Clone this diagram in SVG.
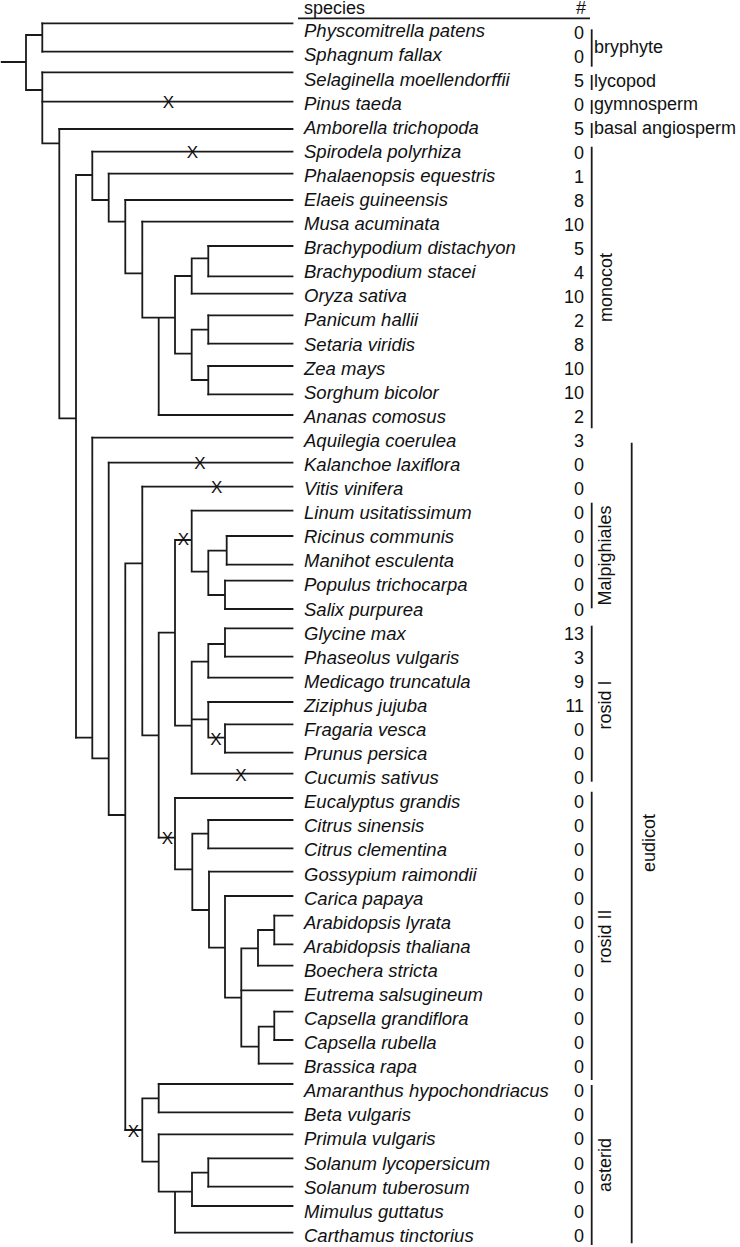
<svg xmlns="http://www.w3.org/2000/svg" width="740" height="1247" viewBox="0 0 740 1247">
<style>
.tree{fill:none;stroke:#1a1a1a;stroke-width:1.8;stroke-linecap:square}
.bar{stroke:#1a1a1a;stroke-width:1.8}
.sp{font-family:"Liberation Sans",Arial,sans-serif;font-style:italic;font-size:18.5px;fill:#111}
.num{font-family:"Liberation Sans",Arial,sans-serif;font-size:18px;fill:#111;text-anchor:end}
.lab{font-family:"Liberation Sans",Arial,sans-serif;font-size:18px;fill:#111}
.rot{font-family:"Liberation Sans",Arial,sans-serif;font-size:18px;fill:#111;text-anchor:middle}
.x{font-family:"Liberation Sans",Arial,sans-serif;font-size:17px;fill:#111;text-anchor:middle}
</style>
<rect width="740" height="1247" fill="#fff"/>
<g id="header">
<text class="lab" x="304" y="14">species</text>
<text class="num" x="586" y="14">#</text>
<line class="bar" x1="298" y1="18.3" x2="590" y2="18.3"/>
</g>
<g id="connectors">
<path class="tree" d="M1.7 62H26M26 35V90M26 35H42.3M26 90H42.3M42.3 23.3V51.7M42.3 72.3V143.3M42.3 143.3H59.3M59.3 129V418.3M59.3 418.3H76M76 175V737.7M76 175H92.3M92.3 151.7V200M92.3 200H108.7M108.7 173.7V221.7M108.7 221.7H125.3M125.3 200V273.3M125.3 273.3H142.3M142.3 221.7V317.7M142.3 317.7H175M158.7 317.7V415M175 276V353.7M175 276H191.7M175 353.7H191.7M191.7 258.3V293.7M191.7 258.3H208.3M208.3 246V276.3M191.7 329.7V380M191.7 329.7H208.3M191.7 380H208.3M208.3 315.3V343.7M208.3 366V394.3"/>
<path class="tree" d="M76 737.7H92.3M92.3 437.7V758.3M92.3 758.3H108.7M108.7 462.7V815M108.7 815H125.3M125.3 563.3V1130M125.3 563.3H142.3M142.3 486.7V735.3M142.3 735.3H158.7M158.7 632.7V837.7M158.7 632.7H175M175 540V725.7M175 540H191.7M175 725.7H191.7M191.7 510.7V571.7M191.7 571.7H208.3M208.3 550.7V595M208.3 550.7H226.7M208.3 595H225M226.7 536V564.7M225 580.7V609M191.7 661.7V773.7M191.7 661.7H208.3M191.7 719.3H208.3M208.3 644V677.7M208.3 644H225M225 628.3V656.7M208.3 702V737.7M208.3 737.7H225M225 724.3V752.7"/>
<path class="tree" d="M158.7 837.7H175M175 798V869.3M175 869.3H192.3M192.3 833.7V910M192.3 833.7H208.3M192.3 910H209M208.3 820V848.3M209 871.7V947.7M209 947.7H225M225 896V997.7M225 997.7H241.3M241.3 948.3V1046.7M241.3 948.3H258M241.3 1046.7H258.7M258 930V965.7M258 930H274.3M274.3 915.7V944.3M258.7 1026.7V1063.7M258.7 1026.7H274.3M274.3 1011.7V1040"/>
<path class="tree" d="M125.3 1130H142.3M142.3 1098.3V1161.7M142.3 1098.3H158.7M142.3 1161.7H158.7M158.7 1084V1112.3M158.7 1134.3V1191.7M158.7 1191.7H192M175 1191.7V1232.7M192 1172.7V1206M192 1172.7H208.3M208.3 1158.3V1186.7"/>
<path class="tree" d="M42.3 23.3H292.5M42.3 51.7H292.5M42.3 72.3H292.5M42.3 101.7H292.5M59.3 129H292.5M92.3 151.7H292.5M108.7 173.7H292.5M125.3 200H292.5M142.3 221.7H292.5M208.3 246H292.5M208.3 276.3H292.5M191.7 293.7H292.5M208.3 315.3H292.5M208.3 343.7H292.5M208.3 366H292.5M208.3 394.3H292.5M158.7 415H292.5M92.3 437.7H292.5M108.7 462.7H292.5M142.3 486.7H292.5M191.7 510.7H292.5M226.7 536H292.5M226.7 564.7H292.5M225 580.7H292.5M225 609H292.5M225 628.3H292.5M225 656.7H292.5M208.3 677.7H292.5M208.3 702H292.5M225 724.3H292.5M225 752.7H292.5M191.7 773.7H292.5M175 798H292.5M208.3 820H292.5M208.3 848.3H292.5M209 871.7H292.5M225 896H292.5M274.3 915.7H292.5M274.3 944.3H292.5M258 965.7H292.5M241.3 990.3H292.5M274.3 1011.7H292.5M274.3 1040H292.5M258.7 1063.7H292.5M158.7 1084H292.5M158.7 1112.3H292.5M158.7 1134.3H292.5M208.3 1158.3H292.5M208.3 1186.7H292.5M192 1206H292.5M175 1232.7H292.5"/>
</g>
<g id="loss-marks">
<text class="x" x="168.3" y="107.7">X</text>
<text class="x" x="192.3" y="157.7">X</text>
<text class="x" x="200" y="469.2">X</text>
<text class="x" x="216.7" y="492.7">X</text>
<text class="x" x="183.3" y="545.2">X</text>
<text class="x" x="216" y="745.2">X</text>
<text class="x" x="241" y="781.2">X</text>
<text class="x" x="167.3" y="843.9">X</text>
<text class="x" x="133.3" y="1137.2">X</text>
</g>
<g id="leaves">
<g id="leaf-physcomitrella"><text class="sp" x="304" y="37.3">Physcomitrella patens</text><text class="num" x="584" y="38.5">0</text></g>
<g id="leaf-sphagnum"><text class="sp" x="304" y="61.4">Sphagnum fallax</text><text class="num" x="584" y="62.6">0</text></g>
<g id="leaf-selaginella"><text class="sp" x="304" y="85.5">Selaginella moellendorffii</text><text class="num" x="584" y="86.5">5</text></g>
<g id="leaf-pinus"><text class="sp" x="304" y="109.6">Pinus taeda</text><text class="num" x="584" y="110.5">0</text></g>
<g id="leaf-amborella"><text class="sp" x="304" y="133.7">Amborella trichopoda</text><text class="num" x="584" y="134.5">5</text></g>
<g id="leaf-spirodela"><text class="sp" x="304" y="157.8">Spirodela polyrhiza</text><text class="num" x="584" y="158.5">0</text></g>
<g id="leaf-phalaenopsis"><text class="sp" x="304" y="181.8">Phalaenopsis equestris</text><text class="num" x="584" y="182.5">1</text></g>
<g id="leaf-elaeis"><text class="sp" x="304" y="205.9">Elaeis guineensis</text><text class="num" x="584" y="206.5">8</text></g>
<g id="leaf-musa"><text class="sp" x="304" y="230">Musa acuminata</text><text class="num" x="584" y="230.5">10</text></g>
<g id="leaf-brachypodium-distachyon"><text class="sp" x="304" y="254.1">Brachypodium distachyon</text><text class="num" x="584" y="254.5">5</text></g>
<g id="leaf-brachypodium-stacei"><text class="sp" x="304" y="278.2">Brachypodium stacei</text><text class="num" x="584" y="278.5">4</text></g>
<g id="leaf-oryza"><text class="sp" x="304" y="302.3">Oryza sativa</text><text class="num" x="584" y="302.5">10</text></g>
<g id="leaf-panicum"><text class="sp" x="304" y="326.4">Panicum hallii</text><text class="num" x="584" y="326.5">2</text></g>
<g id="leaf-setaria"><text class="sp" x="304" y="350.5">Setaria viridis</text><text class="num" x="584" y="350.5">8</text></g>
<g id="leaf-zea"><text class="sp" x="304" y="374.6">Zea mays</text><text class="num" x="584" y="374.6">10</text></g>
<g id="leaf-sorghum"><text class="sp" x="304" y="398.7">Sorghum bicolor</text><text class="num" x="584" y="398.7">10</text></g>
<g id="leaf-ananas"><text class="sp" x="304" y="422.7">Ananas comosus</text><text class="num" x="584" y="422.7">2</text></g>
<g id="leaf-aquilegia"><text class="sp" x="304" y="446.8">Aquilegia coerulea</text><text class="num" x="584" y="446.8">3</text></g>
<g id="leaf-kalanchoe"><text class="sp" x="304" y="470.9">Kalanchoe laxiflora</text><text class="num" x="584" y="470.9">0</text></g>
<g id="leaf-vitis"><text class="sp" x="304" y="495">Vitis vinifera</text><text class="num" x="584" y="495">0</text></g>
<g id="leaf-linum"><text class="sp" x="304" y="519.1">Linum usitatissimum</text><text class="num" x="584" y="519.1">0</text></g>
<g id="leaf-ricinus"><text class="sp" x="304" y="543.2">Ricinus communis</text><text class="num" x="584" y="543.2">0</text></g>
<g id="leaf-manihot"><text class="sp" x="304" y="567.3">Manihot esculenta</text><text class="num" x="584" y="567.3">0</text></g>
<g id="leaf-populus"><text class="sp" x="304" y="591.4">Populus trichocarpa</text><text class="num" x="584" y="591.4">0</text></g>
<g id="leaf-salix"><text class="sp" x="304" y="615.5">Salix purpurea</text><text class="num" x="584" y="615.5">0</text></g>
<g id="leaf-glycine"><text class="sp" x="304" y="639.6">Glycine max</text><text class="num" x="584" y="639.6">13</text></g>
<g id="leaf-phaseolus"><text class="sp" x="304" y="663.6">Phaseolus vulgaris</text><text class="num" x="584" y="663.6">3</text></g>
<g id="leaf-medicago"><text class="sp" x="304" y="687.7">Medicago truncatula</text><text class="num" x="584" y="687.7">9</text></g>
<g id="leaf-ziziphus"><text class="sp" x="304" y="711.8">Ziziphus jujuba</text><text class="num" x="584" y="711.8">11</text></g>
<g id="leaf-fragaria"><text class="sp" x="304" y="735.9">Fragaria vesca</text><text class="num" x="584" y="735.9">0</text></g>
<g id="leaf-prunus"><text class="sp" x="304" y="760">Prunus persica</text><text class="num" x="584" y="760">0</text></g>
<g id="leaf-cucumis"><text class="sp" x="304" y="784.1">Cucumis sativus</text><text class="num" x="584" y="784.1">0</text></g>
<g id="leaf-eucalyptus"><text class="sp" x="304" y="808.2">Eucalyptus grandis</text><text class="num" x="584" y="808.2">0</text></g>
<g id="leaf-citrus-sinensis"><text class="sp" x="304" y="832.3">Citrus sinensis</text><text class="num" x="584" y="832.3">0</text></g>
<g id="leaf-citrus-clementina"><text class="sp" x="304" y="856.4">Citrus clementina</text><text class="num" x="584" y="856.4">0</text></g>
<g id="leaf-gossypium"><text class="sp" x="304" y="880.5">Gossypium raimondii</text><text class="num" x="584" y="880.5">0</text></g>
<g id="leaf-carica"><text class="sp" x="304" y="904.5">Carica papaya</text><text class="num" x="584" y="904.5">0</text></g>
<g id="leaf-arabidopsis-lyrata"><text class="sp" x="304" y="928.6">Arabidopsis lyrata</text><text class="num" x="584" y="928.6">0</text></g>
<g id="leaf-arabidopsis-thaliana"><text class="sp" x="304" y="952.7">Arabidopsis thaliana</text><text class="num" x="584" y="952.7">0</text></g>
<g id="leaf-boechera"><text class="sp" x="304" y="976.8">Boechera stricta</text><text class="num" x="584" y="976.8">0</text></g>
<g id="leaf-eutrema"><text class="sp" x="304" y="1000.9">Eutrema salsugineum</text><text class="num" x="584" y="1000.9">0</text></g>
<g id="leaf-capsella-grandiflora"><text class="sp" x="304" y="1025">Capsella grandiflora</text><text class="num" x="584" y="1025">0</text></g>
<g id="leaf-capsella-rubella"><text class="sp" x="304" y="1049.1">Capsella rubella</text><text class="num" x="584" y="1049.1">0</text></g>
<g id="leaf-brassica"><text class="sp" x="304" y="1073.2">Brassica rapa</text><text class="num" x="584" y="1073.2">0</text></g>
<g id="leaf-amaranthus"><text class="sp" x="304" y="1097.3">Amaranthus hypochondriacus</text><text class="num" x="584" y="1097.3">0</text></g>
<g id="leaf-beta"><text class="sp" x="304" y="1121.4">Beta vulgaris</text><text class="num" x="584" y="1121.4">0</text></g>
<g id="leaf-primula"><text class="sp" x="304" y="1145.4">Primula vulgaris</text><text class="num" x="584" y="1145.4">0</text></g>
<g id="leaf-solanum-lycopersicum"><text class="sp" x="304" y="1169.5">Solanum lycopersicum</text><text class="num" x="584" y="1169.5">0</text></g>
<g id="leaf-solanum-tuberosum"><text class="sp" x="304" y="1193.6">Solanum tuberosum</text><text class="num" x="584" y="1193.6">0</text></g>
<g id="leaf-mimulus"><text class="sp" x="304" y="1217.7">Mimulus guttatus</text><text class="num" x="584" y="1217.7">0</text></g>
<g id="leaf-carthamus"><text class="sp" x="304" y="1241.8">Carthamus tinctorius</text><text class="num" x="584" y="1241.8">0</text></g>
</g>
<g id="groups">
<g id="grp-bryophyte"><line class="bar" x1="591.7" y1="29.3" x2="591.7" y2="66.7"/><text class="lab" x="594" y="53.3">bryphyte</text></g>
<g id="grp-lycopod"><line class="bar" x1="591.7" y1="75" x2="591.7" y2="90"/><text class="lab" x="594" y="86.5">lycopod</text></g>
<g id="grp-gymnosperm"><line class="bar" x1="591.7" y1="100" x2="591.7" y2="114"/><text class="lab" x="594" y="110.3">gymnosperm</text></g>
<g id="grp-basal"><line class="bar" x1="591.7" y1="123" x2="591.7" y2="138"/><text class="lab" x="594" y="134">basal angiosperm</text></g>
<g id="grp-monocot"><line class="bar" x1="591.7" y1="146.7" x2="591.7" y2="428.3"/><text class="rot" transform="translate(611.5 287.5) rotate(-90)">monocot</text></g>
<g id="grp-eudicot"><line class="bar" x1="631.7" y1="442.7" x2="631.7" y2="1243.3"/><text class="rot" transform="translate(655 843) rotate(-90)">eudicot</text></g>
<g id="grp-malpighiales"><line class="bar" x1="591.7" y1="502.7" x2="591.7" y2="608.3"/><text class="rot" transform="translate(610.5 555.5) rotate(-90)">Malpighiales</text></g>
<g id="grp-rosid1"><line class="bar" x1="591.7" y1="625.7" x2="591.7" y2="781.7"/><text class="rot" transform="translate(611 705) rotate(-90)">rosid I</text></g>
<g id="grp-rosid2"><line class="bar" x1="591.7" y1="791.7" x2="591.7" y2="1080"/><text class="rot" transform="translate(611 936.5) rotate(-90)">rosid II</text></g>
<g id="grp-asterid"><line class="bar" x1="591.7" y1="1085" x2="591.7" y2="1245"/><text class="rot" transform="translate(611 1165) rotate(-90)">asterid</text></g>
</g>
</svg>
